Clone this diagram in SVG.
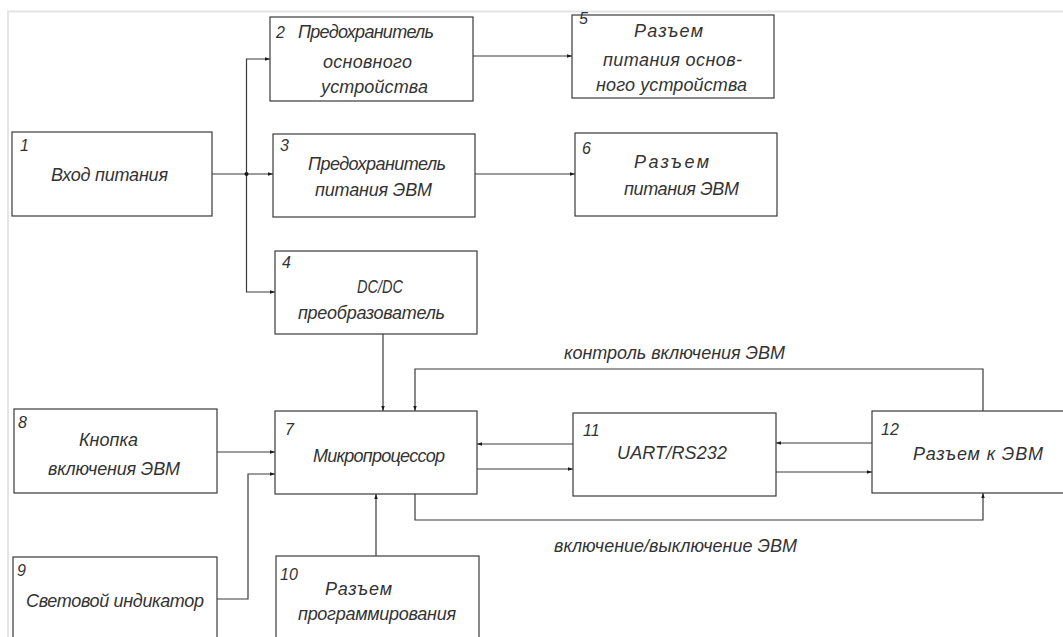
<svg xmlns="http://www.w3.org/2000/svg" width="1063" height="637" viewBox="0 0 1063 637">
<defs>
<style>
.box{fill:#fff;stroke:#3a3a3a;stroke-width:1.2}
.ln{fill:none;stroke:#3a3a3a;stroke-width:1.2}
.t{font-family:"Liberation Sans","DejaVu Sans",sans-serif;font-style:italic;font-size:18px;fill:#333}
.n{font-family:"Liberation Sans","DejaVu Sans",sans-serif;font-style:italic;font-size:16px;fill:#333}
.frame{fill:none;stroke:#e4e4e4;stroke-width:2}
</style>
<marker id="ar" markerWidth="6" markerHeight="4" refX="5" refY="2" orient="auto" markerUnits="userSpaceOnUse">
<path d="M0,0.3 L5,2 L0,3.7 Z" fill="#1a1a1a"/>
</marker>
</defs>
<rect width="1063" height="637" fill="#fff"/>
<path class="frame" d="M8,637 V11.5 H1063"/>

<g id="connectors">
<path class="ln" d="M212,174 H273" marker-end="url(#ar)"/>
<path class="ln" d="M246.5,174 V59 H270" marker-end="url(#ar)"/>
<path class="ln" d="M246.5,174 V292 H275" marker-end="url(#ar)"/>
<circle cx="246.5" cy="174" r="2" fill="#1a1a1a"/>
<path class="ln" d="M473,56 H572" marker-end="url(#ar)"/>
<path class="ln" d="M475,174 H575" marker-end="url(#ar)"/>
<path class="ln" d="M383,334 V411" marker-end="url(#ar)"/>
<path class="ln" d="M217,452 H275" marker-end="url(#ar)"/>
<path class="ln" d="M217,599 H248 V474 H275" marker-end="url(#ar)"/>
<path class="ln" d="M376,556 V494" marker-end="url(#ar)"/>
<path class="ln" d="M573,444 H477" marker-end="url(#ar)"/>
<path class="ln" d="M477,469 H573" marker-end="url(#ar)"/>
<path class="ln" d="M872,443 H776" marker-end="url(#ar)"/>
<path class="ln" d="M776,472 H872" marker-end="url(#ar)"/>
<path class="ln" d="M983,411 V369 H415 V411" marker-end="url(#ar)"/>
<path class="ln" d="M415,494 V520 H983 V493" marker-end="url(#ar)"/>
<text class="t" x="564" y="359" textLength="221" lengthAdjust="spacing">контроль включения ЭВМ</text>
<text class="t" x="554" y="552" textLength="243" lengthAdjust="spacing">включение/выключение ЭВМ</text>
</g>

<g id="n1">
<rect class="box" x="12" y="132" width="200" height="84"/>
<text class="n" x="20" y="151">1</text>
<text class="t" x="51" y="181" textLength="117" lengthAdjust="spacing">Вход питания</text>
</g>
<g id="n2">
<rect class="box" x="270" y="17" width="203" height="84"/>
<text class="n" x="276" y="38">2</text>
<text class="t" x="298" y="38" textLength="136" lengthAdjust="spacing">Предохранитель</text>
<text class="t" x="323" y="68" textLength="89" lengthAdjust="spacing">основного</text>
<text class="t" x="321" y="93" textLength="107" lengthAdjust="spacing">устройства</text>
</g>
<g id="n3">
<rect class="box" x="273" y="134" width="202" height="83"/>
<text class="n" x="280" y="151">3</text>
<text class="t" x="308" y="170" textLength="138" lengthAdjust="spacing">Предохранитель</text>
<text class="t" x="315" y="196" textLength="117" lengthAdjust="spacing">питания ЭВМ</text>
</g>
<g id="n4">
<rect class="box" x="275" y="251" width="202" height="83"/>
<text class="n" x="282" y="268">4</text>
<text class="t" x="357" y="293" textLength="46" lengthAdjust="spacingAndGlyphs">DC/DC</text>
<text class="t" x="298" y="319" textLength="147" lengthAdjust="spacing">преобразователь</text>
</g>
<g id="n5">
<rect class="box" x="572" y="15" width="202" height="83"/>
<text class="n" x="579" y="24">5</text>
<text class="t" x="634" y="37" textLength="69" lengthAdjust="spacing">Разъем</text>
<text class="t" x="603" y="66" textLength="139" lengthAdjust="spacing">питания основ-</text>
<text class="t" x="596" y="91" textLength="151" lengthAdjust="spacing">ного устройства</text>
</g>
<g id="n6">
<rect class="box" x="575" y="133" width="202" height="83"/>
<text class="n" x="582" y="154">6</text>
<text class="t" x="634" y="168" textLength="75" lengthAdjust="spacing">Разъем</text>
<text class="t" x="624" y="195" textLength="115" lengthAdjust="spacing">питания ЭВМ</text>
</g>
<g id="n7">
<rect class="box" x="275" y="411" width="202" height="83"/>
<text class="n" x="285" y="435">7</text>
<text class="t" x="313" y="462" textLength="132" lengthAdjust="spacing">Микропроцессор</text>
</g>
<g id="n8">
<rect class="box" x="14" y="409" width="203" height="84"/>
<text class="n" x="18" y="428">8</text>
<text class="t" x="79" y="446" textLength="59" lengthAdjust="spacing">Кнопка</text>
<text class="t" x="48" y="475" textLength="132" lengthAdjust="spacing">включения ЭВМ</text>
</g>
<g id="n9">
<rect class="box" x="13" y="557" width="204" height="100"/>
<text class="n" x="17" y="576">9</text>
<text class="t" x="26" y="607" textLength="178" lengthAdjust="spacing">Световой индикатор</text>
</g>
<g id="n10">
<rect class="box" x="276" y="556" width="203" height="100"/>
<text class="n" x="280" y="580">10</text>
<text class="t" x="325" y="595" textLength="67" lengthAdjust="spacing">Разъем</text>
<text class="t" x="298" y="620" textLength="158" lengthAdjust="spacing">программирования</text>
</g>
<g id="n11">
<rect class="box" x="573" y="413" width="203" height="83"/>
<text class="n" x="583" y="436">11</text>
<text class="t" x="617" y="459" textLength="110" lengthAdjust="spacing">UART/RS232</text>
</g>
<g id="n12">
<rect class="box" x="872" y="411" width="200" height="82"/>
<text class="n" x="881" y="435">12</text>
<text class="t" x="913" y="460" textLength="130" lengthAdjust="spacing">Разъем  к ЭВМ</text>
</g>
</svg>
